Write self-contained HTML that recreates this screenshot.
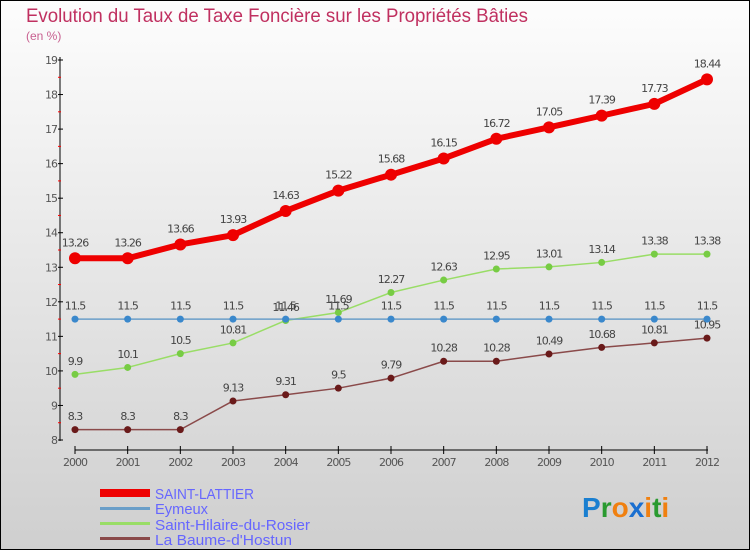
<!DOCTYPE html>
<html><head><meta charset="utf-8"><style>
body{margin:0;width:750px;height:550px;overflow:hidden}
svg{display:block;font-family:"DejaVu Sans","Liberation Sans",sans-serif}
</style></head><body>
<svg id="c" width="750" height="550">
<defs><linearGradient id="bg" x1="0" y1="0" x2="0" y2="1"><stop offset="0" stop-color="#fdfdfd"/><stop offset="1" stop-color="#cfcfcf"/></linearGradient></defs>
<rect x="0.5" y="0.5" width="749" height="549" fill="url(#bg)" stroke="#000"/>
<text x="26" y="22" font-size="19" fill="#c03060" font-family="Liberation Sans,sans-serif" textLength="502" lengthAdjust="spacingAndGlyphs">Evolution du Taux de Taxe Foncière sur les Propriétés Bâties</text>
<text x="26" y="40" font-size="12" fill="#c86090" font-family="Liberation Sans,sans-serif">(en %)</text>
<g id="axes"></g><g id="series"></g>
<g font-family="Liberation Sans,sans-serif">
<rect x="100" y="489" width="50" height="8" fill="#e00"/>
<text x="155" y="499" font-size="15" fill="#6666ff" textLength="99" lengthAdjust="spacingAndGlyphs">SAINT-LATTIER</text>
<rect x="100" y="507" width="50" height="3" fill="#6a9ec8"/>
<text x="155" y="514" font-size="15" fill="#6666ff" textLength="53" lengthAdjust="spacingAndGlyphs">Eymeux</text>
<rect x="100" y="522" width="50" height="3" fill="#99dd66"/>
<text x="155" y="530" font-size="15" fill="#6666ff" textLength="155" lengthAdjust="spacingAndGlyphs">Saint-Hilaire-du-Rosier</text>
<rect x="100" y="537" width="50" height="3" fill="#8a4a4a"/>
<text x="155" y="545" font-size="15" fill="#6666ff" textLength="137" lengthAdjust="spacingAndGlyphs">La Baume-d'Hostun</text>
</g>
<text x="582" y="517" font-size="28" font-weight="bold" font-family="Liberation Sans,sans-serif"><tspan fill="#1a7fd0">P</tspan><tspan fill="#2a9a30">r</tspan><tspan fill="#f08010">o</tspan><tspan fill="#1a6fd0">x</tspan><tspan fill="#f08010">i</tspan><tspan fill="#2a9a30">t</tspan><tspan fill="#f08010">i</tspan></text>
</svg>
<script>
const years=[2000,2001,2002,2003,2004,2005,2006,2007,2008,2009,2010,2011,2012];
const yTicks=[8,9,10,11,12,13,14,15,16,17,18,19];
const saintLattier=[13.26,13.26,13.66,13.93,14.63,15.22,15.68,16.15,16.72,17.05,17.39,17.73,18.44];
const eymeux=[11.5,11.5,11.5,11.5,11.5,11.5,11.5,11.5,11.5,11.5,11.5,11.5,11.5];
const saintHilaire=[9.9,10.1,10.5,10.81,11.46,11.69,12.27,12.63,12.95,13.01,13.14,13.38,13.38];
const laBaume=[8.3,8.3,8.3,9.13,9.31,9.5,9.79,10.28,10.28,10.49,10.68,10.81,10.95];
const NS='http://www.w3.org/2000/svg';
const X=y=>75+(y-2000)*(707-75)/12;
const Y=v=>440-(v-8)*(440-60)/11;
function mk(p,t,a){const e=document.createElementNS(NS,t);for(const k in a)e.setAttribute(k,a[k]);p.appendChild(e);return e;}
const ax=document.getElementById('axes');
let l=mk(ax,'line',{x1:60,y1:57,x2:60,y2:441,stroke:'#000','stroke-width':1});


l=mk(ax,'line',{x1:75,y1:450,x2:708,y2:450,stroke:'#000','stroke-width':1});


yTicks.forEach(v=>{
 mk(ax,'line',{x1:58,y1:Y(v),x2:63,y2:Y(v),stroke:'#000'});
 if(v<19)mk(ax,'line',{x1:58,y1:Y(v+0.5),x2:61,y2:Y(v+0.5),stroke:'#f00'});
 const t=mk(ax,'text',{x:57,y:Y(v)+4,'font-size':11,fill:'#555','text-anchor':'end','letter-spacing':'-1'});
 t.textContent=v;
 
 
});
years.forEach(y=>{
 mk(ax,'line',{x1:X(y),y1:446,x2:X(y),y2:454,stroke:'#000'});
 const t=mk(ax,'text',{x:X(y),y:466,'font-size':11,fill:'#555','text-anchor':'middle','letter-spacing':'-1'});
 t.textContent=y;
 
 
});
const sg=document.getElementById('series');
function draw(vals,color,dot,w,r,name,fs){
 const g=mk(sg,'g',{});
 
 
 mk(g,'polyline',{points:vals.map((v,i)=>X(years[i])+','+Y(v)).join(' '),fill:'none',stroke:color,'stroke-width':w,'stroke-linejoin':'round'});
 vals.forEach((v,i)=>{
  const c=mk(g,'circle',{cx:X(years[i]),cy:Y(v),r:r,fill:dot});
  
  
  const t=mk(g,'text',{x:X(years[i]),y:Y(v)-(r+6),'font-size':fs,fill:'#444','text-anchor':'middle','letter-spacing':'-1'});
  t.textContent=v;
  
  
 });
}
draw(laBaume,'#8a4a4a','#6a1a1a',1.5,3.5,'series-la-baume',11);
draw(saintHilaire,'#99dd66','#77cc44',1.5,3.5,'series-saint-hilaire',11);
draw(eymeux,'#6a9ec8','#3a88cc',1.5,3.5,'series-eymeux',11);
draw(saintLattier,'#ee0000','#ee0000',6,6,'series-saint-lattier',11);
</script>
</body></html>
